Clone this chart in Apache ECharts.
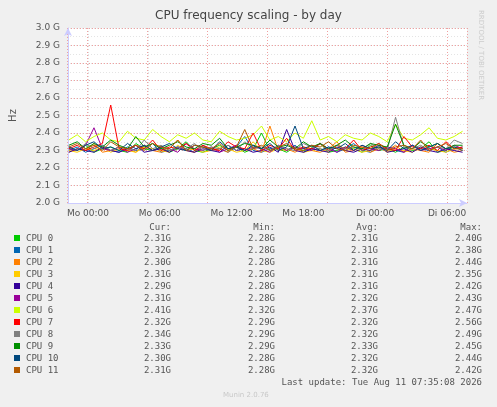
<!DOCTYPE html>
<html>
<head>
<meta charset="utf-8">
<script src="https://cdn.jsdelivr.net/npm/echarts@6/dist/echarts.min.js"></script>
<style>html,body{margin:0;padding:0;background:#f0f0f0}#c{width:497px;height:407px}</style>
</head>
<body>
<div id="c"></div>
<script>
// hours relative to Mo 00:00, one sample every 0.7h
let startHour = -1.6, step = 0.7;
let xTicks = [[0, 'Mo 00:00'], [6, 'Mo 06:00'], [12, 'Mo 12:00'], [18, 'Mo 18:00'], [24, 'Di 00:00'], [30, 'Di 06:00']];
let names = ['CPU 0', 'CPU 1', 'CPU 2', 'CPU 3', 'CPU 4', 'CPU 5', 'CPU 6', 'CPU 7', 'CPU 8', 'CPU 9', 'CPU 10', 'CPU 11'];
let colors = ['#00cc00', '#0066b3', '#ff8000', '#ffcc00', '#330099', '#990099', '#ccff00', '#ff0000', '#808080', '#008f00', '#00487d', '#b35a00'];
let cur = ['2.31G', '2.32G', '2.30G', '2.31G', '2.29G', '2.31G', '2.41G', '2.32G', '2.34G', '2.33G', '2.30G', '2.31G'];
let mins = ['2.28G', '2.28G', '2.28G', '2.28G', '2.28G', '2.28G', '2.32G', '2.29G', '2.29G', '2.29G', '2.28G', '2.28G'];
let avgs = ['2.31G', '2.31G', '2.31G', '2.31G', '2.31G', '2.32G', '2.37G', '2.32G', '2.32G', '2.33G', '2.32G', '2.32G'];
let maxs = ['2.40G', '2.38G', '2.44G', '2.35G', '2.42G', '2.43G', '2.47G', '2.56G', '2.49G', '2.45G', '2.44G', '2.42G'];

let cpu0 = [2.31,2.30,2.33,2.29,2.31,2.32,2.30,2.29,2.34,2.31,2.30,2.32,2.29,2.31,2.35,2.30,2.29,2.31,2.33,2.30,2.32,2.29,2.31,2.40,2.30,2.31,2.29,2.32,2.30,2.31,2.34,2.29,2.30,2.32,2.31,2.29,2.33,2.30,2.31,2.29,2.32,2.30,2.31,2.35,2.29,2.30,2.32,2.31];
let cpu1 = [2.30,2.32,2.29,2.31,2.33,2.30,2.29,2.32,2.30,2.31,2.34,2.29,2.30,2.32,2.31,2.29,2.33,2.30,2.31,2.29,2.32,2.38,2.30,2.29,2.31,2.32,2.30,2.33,2.29,2.31,2.30,2.32,2.29,2.31,2.34,2.30,2.29,2.32,2.31,2.30,2.29,2.33,2.31,2.30,2.32,2.29,2.31,2.32];
let cpu2 = [2.29,2.31,2.30,2.34,2.29,2.30,2.32,2.31,2.29,2.33,2.30,2.29,2.31,2.36,2.30,2.29,2.32,2.30,2.31,2.29,2.33,2.30,2.31,2.29,2.44,2.30,2.31,2.29,2.32,2.30,2.29,2.31,2.35,2.29,2.30,2.32,2.29,2.31,2.30,2.33,2.29,2.31,2.30,2.29,2.34,2.31,2.29,2.30];
let cpu3 = [2.30,2.29,2.31,2.30,2.32,2.29,2.31,2.30,2.29,2.32,2.31,2.30,2.29,2.33,2.30,2.31,2.29,2.30,2.32,2.31,2.29,2.30,2.35,2.30,2.29,2.31,2.30,2.32,2.29,2.30,2.31,2.29,2.33,2.30,2.31,2.29,2.30,2.32,2.29,2.31,2.30,2.29,2.32,2.31,2.30,2.29,2.31,2.31];
let cpu4 = [2.29,2.31,2.30,2.29,2.32,2.30,2.29,2.31,2.33,2.29,2.30,2.31,2.29,2.32,2.30,2.29,2.31,2.30,2.29,2.33,2.30,2.31,2.29,2.30,2.32,2.29,2.42,2.30,2.29,2.31,2.30,2.29,2.32,2.30,2.29,2.31,2.30,2.33,2.29,2.30,2.31,2.29,2.32,2.30,2.29,2.31,2.30,2.29];
let cpu5 = [2.31,2.30,2.33,2.43,2.31,2.30,2.32,2.29,2.31,2.33,2.30,2.32,2.31,2.29,2.34,2.31,2.30,2.32,2.29,2.31,2.33,2.30,2.32,2.31,2.29,2.33,2.30,2.32,2.31,2.30,2.34,2.31,2.29,2.32,2.30,2.33,2.31,2.30,2.32,2.31,2.29,2.33,2.30,2.31,2.32,2.30,2.33,2.31];
let cpu6 = [2.36,2.39,2.35,2.38,2.40,2.36,2.35,2.41,2.37,2.36,2.42,2.38,2.35,2.39,2.37,2.40,2.36,2.35,2.41,2.38,2.36,2.37,2.39,2.44,2.36,2.38,2.35,2.40,2.37,2.47,2.36,2.38,2.35,2.39,2.37,2.36,2.40,2.38,2.35,2.45,2.37,2.36,2.39,2.43,2.37,2.36,2.38,2.41];
let cpu7 = [2.31,2.33,2.30,2.32,2.34,2.56,2.31,2.30,2.33,2.31,2.36,2.30,2.32,2.31,2.34,2.30,2.33,2.31,2.30,2.35,2.32,2.31,2.40,2.30,2.33,2.31,2.37,2.30,2.32,2.31,2.34,2.30,2.33,2.31,2.36,2.30,2.32,2.34,2.31,2.30,2.38,2.32,2.31,2.33,2.30,2.35,2.31,2.32];
let cpu8 = [2.32,2.30,2.34,2.31,2.33,2.30,2.32,2.31,2.30,2.36,2.31,2.33,2.30,2.32,2.31,2.34,2.30,2.32,2.31,2.33,2.30,2.35,2.31,2.32,2.30,2.33,2.31,2.30,2.34,2.32,2.31,2.30,2.33,2.31,2.32,2.30,2.34,2.31,2.30,2.49,2.32,2.31,2.33,2.30,2.32,2.31,2.36,2.34];
let cpu9 = [2.33,2.35,2.31,2.34,2.32,2.36,2.33,2.31,2.38,2.32,2.34,2.31,2.33,2.35,2.32,2.31,2.34,2.33,2.37,2.31,2.32,2.34,2.33,2.31,2.36,2.32,2.33,2.31,2.35,2.32,2.34,2.31,2.33,2.36,2.32,2.31,2.34,2.33,2.32,2.45,2.33,2.31,2.35,2.32,2.34,2.31,2.33,2.33];
let cpu10 = [2.32,2.30,2.33,2.35,2.31,2.32,2.30,2.34,2.31,2.33,2.30,2.32,2.34,2.31,2.30,2.33,2.32,2.30,2.35,2.31,2.32,2.30,2.33,2.31,2.34,2.30,2.32,2.44,2.31,2.33,2.30,2.32,2.31,2.34,2.30,2.33,2.31,2.32,2.30,2.35,2.31,2.33,2.30,2.32,2.34,2.31,2.32,2.30];
let cpu11 = [2.32,2.34,2.31,2.33,2.30,2.35,2.32,2.31,2.33,2.30,2.34,2.32,2.31,2.36,2.30,2.33,2.32,2.31,2.34,2.30,2.32,2.42,2.31,2.33,2.30,2.32,2.34,2.31,2.30,2.33,2.32,2.35,2.31,2.30,2.33,2.32,2.31,2.34,2.30,2.32,2.33,2.31,2.36,2.30,2.32,2.34,2.31,2.31];
let values = [cpu0, cpu1, cpu2, cpu3, cpu4, cpu5, cpu6, cpu7, cpu8, cpu9, cpu10, cpu11];

let chart = echarts.init(document.getElementById('c'));
let mono = 'DejaVu Sans Mono';
let txt = '#555';

let series = values.map((v, k) => ({
    name: names[k],
    type: 'line',
    showSymbol: false,
    animation: false,
    lineStyle: { width: 1, color: colors[k] },
    itemStyle: { color: colors[k] },
    data: v.map((y, i) => [+(startHour + i * step).toFixed(2), y])
}));
// second grid only carries the major (red) grid lines
series.push({ type: 'line', data: [], xAxisIndex: 1, yAxisIndex: 1 });

let graphic = [];
let rowTop = 239, rowStep = 12;
let header = [['Cur:', 171], ['Min:', 275], ['Avg:', 378], ['Max:', 482]];
header.forEach(h => graphic.push({ type: 'text', right: 497 - h[1], top: 223, style: { text: h[0], font: '9px ' + mono, fill: txt } }));
names.forEach((n, k) => {
    let y = rowTop + k * rowStep;
    graphic.push({ type: 'rect', shape: { x: 14, y: y - 4, width: 6, height: 6 }, style: { fill: colors[k] } });
    graphic.push({ type: 'text', left: 26, top: y - 5, style: { text: n, font: '9px ' + mono, fill: txt } });
    [cur, mins, avgs, maxs].forEach((col, c) => {
        graphic.push({ type: 'text', right: 497 - header[c][1], top: y - 5, style: { text: col[k], font: '9px ' + mono, fill: txt } });
    });
});
graphic.push({ type: 'text', right: 15, top: 378, style: { text: 'Last update: Tue Aug 11 07:35:08 2026', font: '9px ' + mono, fill: txt } });
graphic.push({ type: 'text', left: 223, top: 392, style: { text: 'Munin 2.0.76', font: '7px DejaVu Sans', fill: '#c8c8c8' } });
graphic.push({ type: 'text', x: 484, y: 10, rotation: -Math.PI / 2, style: { text: 'RRDTOOL / TOBI OETIKER', font: '7px DejaVu Sans', fill: '#cccccc' } });

chart.setOption({
    backgroundColor: '#f0f0f0',
    animation: false,
    title: { text: 'CPU frequency scaling - by day', left: 'center', top: 5, textStyle: { fontFamily: 'DejaVu Sans', fontSize: 12, fontWeight: 'normal', color: '#444' } },
    grid: [{ left: 67, right: 30, top: 28, bottom: 204, backgroundColor: '#fff', show: true, borderWidth: 0 },
           { left: 67, right: 30, top: 28, bottom: 204 }],
    xAxis: [{
        type: 'value', min: -1.67, max: 31.67, gridIndex: 0,
        customValues: [-1, 0, 1, 2, 3, 4, 5, 6, 7, 8, 9, 10, 11, 12, 13, 14, 15, 16, 17, 18, 19, 20, 21, 22, 23, 24, 25, 26, 27, 28, 29, 30, 31],
        axisTick: { show: false },
        axisLabel: {
            customValues: xTicks.map(t => t[0]),
            formatter: v => (xTicks.find(t => t[0] === v) || [0, ''])[1],
            fontFamily: 'DejaVu Sans', fontSize: 9, color: txt, margin: 6
        },
        axisLine: { onZero: false, lineStyle: { color: '#ccccff' }, symbol: ['none', 'arrow'], symbolSize: [6, 8] },
        splitLine: { show: true, lineStyle: { color: '#dddddd', type: [1, 2] } }
    }, {
        type: 'value', min: -1.67, max: 31.67, gridIndex: 1,
        customValues: [0, 3, 6, 9, 12, 15, 18, 21, 24, 27, 30],
        axisLabel: { show: false }, axisTick: { show: false }, axisLine: { show: false },
        splitLine: { show: true, lineStyle: { color: '#f0a0a0', type: [1, 2] } }
    }],
    yAxis: [{
        type: 'value', min: 2.0, max: 3.0, interval: 0.1, gridIndex: 0,
        name: 'Hz', nameLocation: 'middle', nameGap: 50, nameTextStyle: { fontFamily: 'DejaVu Sans', fontSize: 10, color: txt },
        axisLabel: { formatter: v => v.toFixed(1) + ' G', fontFamily: 'DejaVu Sans', fontSize: 9, color: txt, margin: 8 },
        axisTick: { show: false },
        axisLine: { show: true, onZero: false, lineStyle: { color: '#ccccff' }, symbol: ['none', 'arrow'], symbolSize: [6, 8] },
        splitLine: { show: true, lineStyle: { color: '#f0a0a0', type: [1, 2] } }
    }, {
        type: 'value', min: 2.0, max: 3.0, interval: 0.05, gridIndex: 1,
        axisLabel: { show: false }, axisTick: { show: false }, axisLine: { show: false },
        splitLine: { show: true, lineStyle: { color: '#e4e4e4', type: [1, 2] } }
    }],
    series: series,
    graphic: graphic
});
</script>
</body>
</html>
